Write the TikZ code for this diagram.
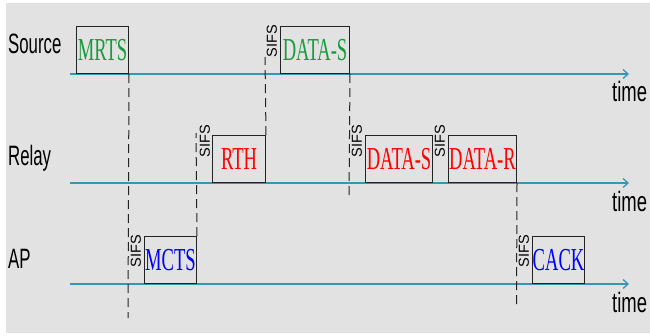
\documentclass[tikz,border=0pt]{standalone}
\usepackage{fontspec}
\setmainfont{Liberation Serif}
\newfontfamily\lsans{Liberation Sans}
\usetikzlibrary{arrows.meta}
\definecolor{bgray}{RGB}{226,226,226}
\definecolor{axisc}{RGB}{52,152,180}
\definecolor{dgreen}{RGB}{25,155,60}
\definecolor{dline}{RGB}{35,35,35}
\tikzset{
  pkt/.style={draw=dline, line width=1pt, inner sep=0pt, anchor=south west, minimum height=47pt},
  axis/.style={draw=axisc, line width=1.3pt, -{Straight Barb[length=5pt,width=9pt]}},
  dline/.style={draw=dline, line width=1pt, dash pattern=on 9pt off 5pt},
  rowlab/.style={font=\lsans\fontsize{28}{28}\selectfont, anchor=west, inner sep=0pt},
  timelab/.style={font=\lsans\fontsize{28}{28}\selectfont, anchor=west, inner sep=0pt},
  sifs/.style={font=\lsans\fontsize{14.5}{14.5}\selectfont, rotate=90, anchor=east, inner sep=0pt, text=black}
}
\newcommand{\pkttext}[2]{\textcolor{#1}{\scalebox{0.58}[1]{\fontsize{32}{32}\selectfont #2}}}
\newcommand{\lbsq}[2]{\scalebox{#1}[1]{#2}}
\begin{document}
\begin{tikzpicture}[x=1pt,y=-1pt]
\useasboundingbox (0,0) rectangle (650,335);
\fill[white] (0,0) rectangle (650,335);
\fill[bgray] (6,3) rectangle (650,333);
% axes
\coordinate (s0) at (70,74); \coordinate (s1) at (629,74);
\coordinate (r0) at (70,183); \coordinate (r1) at (629,183);
\coordinate (a0) at (70,284); \coordinate (a1) at (629,284);
\draw[axis] (s0) -- (s1);
\draw[axis] (r0) -- (r1);
\draw[axis] (a0) -- (a1);
% row labels
\node[rowlab] (lsrc) at (8,44) {\lbsq{0.6}{Source}};
\node[rowlab] (lrel) at (8,158) {\lbsq{0.6}{Relay}};
\node[rowlab] (lap) at (8,259) {\lbsq{0.6}{AP}};
\node[timelab] (t1) at (612,91) {\lbsq{0.66}{time}};
\node[timelab] (t2) at (612,201) {\lbsq{0.66}{time}};
\node[timelab] (t3) at (612,302) {\lbsq{0.66}{time}};
% packets
\node[pkt, minimum width=52pt] (mrts) at (76,74) {\pkttext{dgreen}{MRTS}};
\node[pkt, minimum width=69pt] (dsS) at (280,74) {\pkttext{dgreen}{DATA-S}};
\node[pkt, minimum width=53pt] (rth) at (212,183) {\pkttext{red}{RTH}};
\node[pkt, minimum width=67pt] (dsR) at (365,183) {\pkttext{red}{DATA-S}};
\node[pkt, minimum width=68pt] (drR) at (448,183) {\pkttext{red}{DATA-R}};
\node[pkt, minimum width=52pt] (mcts) at (144,284) {\pkttext{blue}{MCTS}};
\node[pkt, minimum width=52pt] (cack) at (532,284) {\pkttext{blue}{CACK}};
% SIFS labels
\node[sifs] (sf1) at (272,25) {SIFS};
\node[sifs] (sf2) at (205,125) {SIFS};
\node[sifs] (sf3) at (357,125) {SIFS};
\node[sifs] (sf4) at (440,125) {SIFS};
\node[sifs] (sf5) at (136,235) {SIFS};
\node[sifs] (sf6) at (524,235) {SIFS};
% dashed timing lines
\coordinate (e1) at (128,318);
\coordinate (e2) at (196,133);
\coordinate (e3) at (265,57);
\coordinate (e4) at (349,198);
\coordinate (e5) at (516.5,307);
\draw[dline] (mrts.south east) -- (e1);
\draw[dline] (mcts.north east) -- (e2);
\draw[dline] (rth.north east) -- (e3);
\draw[dline] (dsS.south east) -- (e4);
\draw[dline] (drR.south east) -- (e5);
\end{tikzpicture}
\end{document}
